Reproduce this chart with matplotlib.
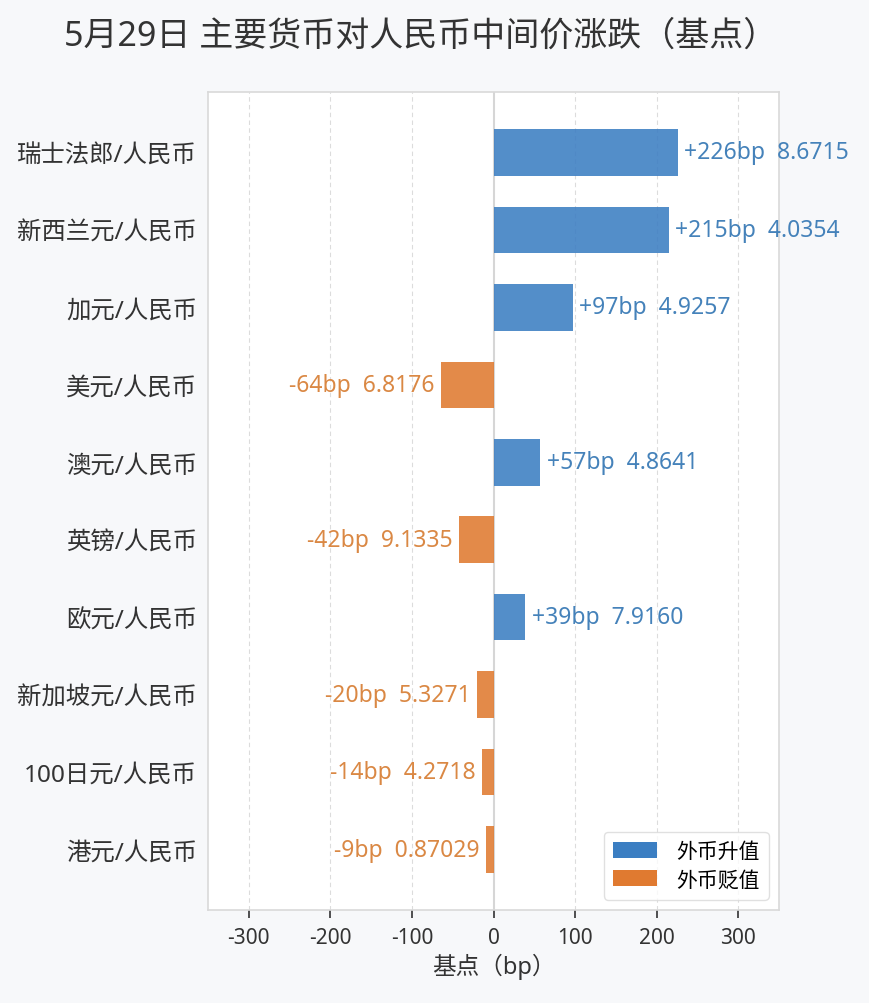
import matplotlib
matplotlib.use('Agg')
import matplotlib.pyplot as plt
from matplotlib.patches import Patch

plt.rcParams['font.family'] = ['Noto Sans', 'Noto Sans CJK SC', 'DejaVu Sans']
plt.rcParams['axes.unicode_minus'] = False

# data, top to bottom
pairs = ['瑞士法郎/人民币', '新西兰元/人民币', '加元/人民币', '美元/人民币', '澳元/人民币',
         '英镑/人民币', '欧元/人民币', '新加坡元/人民币', '100日元/人民币', '港元/人民币']
change_bp = [226, 215, 97, -64, 57, -42, 39, -20, -14, -9]
rates = ['8.6715', '4.0354', '4.9257', '6.8176', '4.8641', '9.1335', '7.9160', '5.3271', '4.2718', '0.87029']
xticks = [-300, -200, -100, 0, 100, 200, 300]

up_color = '#3b7ec2'
down_color = '#e07a30'
up_text = '#4582ba'
down_text = '#da8844'

fig = plt.figure(figsize=(8.7, 10.04), dpi=100, facecolor='#f7f8fa')
ax = fig.add_axes([0.2391, 0.0926, 0.6563, 0.8148])
ax.set_facecolor('white')

ypos = list(range(len(pairs)))
colors = [up_color if v > 0 else down_color for v in change_bp]
ax.barh(ypos, change_bp, height=0.6, color=colors, alpha=0.88, zorder=3)

for y, v, r in zip(ypos, change_bp, rates):
    label = f'{v:+d}bp  {r}'
    if v > 0:
        ax.text(v + 8, y, label, ha='left', va='center', fontsize=16.5,
                color=up_text, zorder=4)
    else:
        ax.text(v - 8, y, label, ha='right', va='center', fontsize=16.5,
                color=down_text, zorder=4)

ax.set_xlim(-350, 350)
ax.set_yticks(ypos)
ax.set_yticklabels(pairs, fontsize=17.6, color='#333333')
ax.invert_yaxis()
ax.set_xticks(xticks)
ax.set_xticklabels([str(t) for t in xticks], fontsize=15, color='#333333')
ax.tick_params(axis='y', length=0, pad=8)
ax.tick_params(axis='x', length=6, width=1.2, color='#333333', pad=6)

for x in xticks:
    if x == 0:
        ax.axvline(0, color='#d6d6d6', lw=1.5, zorder=2)
    else:
        ax.axvline(x, color='#dcdcdc', lw=0.8, ls=(0, (4, 3)), zorder=1)

for s in ax.spines.values():
    s.set_color('#d9d9d9')
    s.set_linewidth(1.2)

ax.set_xlabel('基点（bp）', fontsize=17, color='#333333', labelpad=4)
fig.suptitle('5月29日 主要货币对人民币中间价涨跌（基点）', fontsize=24.5, color='#333333',
             x=0.483, y=0.98)

handles = [Patch(facecolor=up_color, label='外币升值'),
           Patch(facecolor=down_color, label='外币贬值')]
leg = ax.legend(handles=handles, loc='lower right', fontsize=15, frameon=True,
                handlelength=2.1, handleheight=0.8, borderpad=0.45, labelspacing=0.35,
                handletextpad=0.9)
leg.get_frame().set_edgecolor('#d9d9d9')

fig.savefig('out.png', dpi=100, facecolor=fig.get_facecolor())
